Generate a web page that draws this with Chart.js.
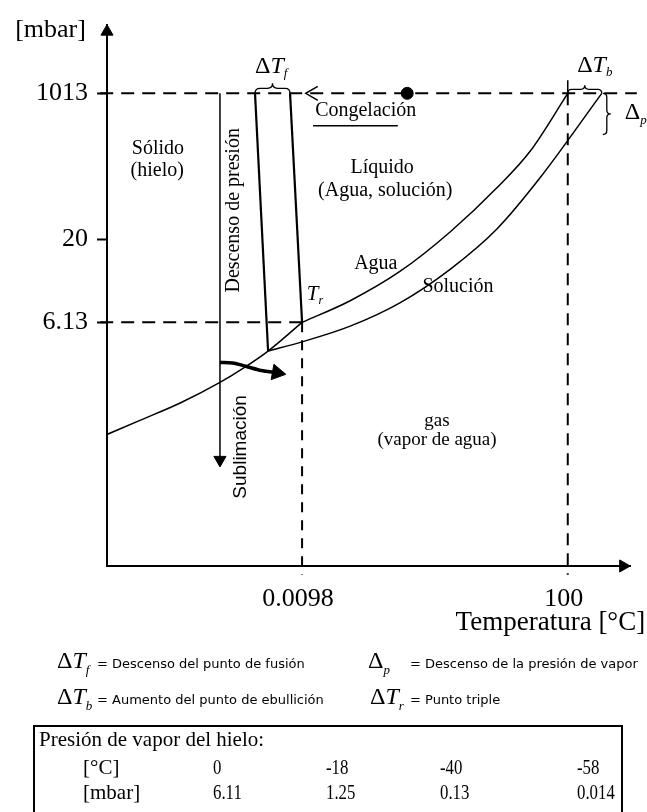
<!DOCTYPE html>
<html>
<head>
<meta charset="utf-8">
<script src="https://cdn.jsdelivr.net/npm/chart.js"></script>
<style>
  html, body { margin: 0; padding: 0; background: #fff; overflow: hidden; }
  #wrap { position: relative; width: 647px; height: 812px; overflow: hidden; }
  #phase { position: absolute; left: 0; top: 0; }
  .t { position: absolute; white-space: nowrap; line-height: 1; color: #000; }
  .serif { font-family: "Liberation Serif", "Times New Roman", serif; }
  .sans { font-family: "DejaVu Sans", sans-serif; font-size: 13px; }
  .sym { font-size: 24px; }
  .sym sub { font-size: 13px; font-style: italic; vertical-align: -6px; line-height: 0; }
  .tbl { font-size: 21px; }
  .num { transform: scaleX(0.8); transform-origin: left center; }
  #box { position: absolute; left: 33px; top: 725px; width: 590px; height: 120px;
         border: 2px solid #000; box-sizing: border-box; }
</style>
</head>
<body>
<div id="wrap">
  <canvas id="phase" width="647" height="812"></canvas>

  <div class="t serif sym" style="left:57px;top:648px">Δ<i>T</i><sub>f</sub></div>
  <div class="t sans" style="left:97px;top:657px">= Descenso del punto de fusión</div>
  <div class="t serif sym" style="left:368px;top:648px">Δ<sub>p</sub></div>
  <div class="t sans" style="left:410px;top:657px">= Descenso de la presión de vapor</div>
  <div class="t serif sym" style="left:57px;top:684px">Δ<i>T</i><sub>b</sub></div>
  <div class="t sans" style="left:97px;top:693px">= Aumento del punto de ebullición</div>
  <div class="t serif sym" style="left:370px;top:684px">Δ<i>T</i><sub>r</sub></div>
  <div class="t sans" style="left:410px;top:693px">= Punto triple</div>

  <div id="box"></div>
  <div class="t serif tbl" style="left:39px;top:729px">Presión de vapor del hielo:</div>
  <div id="rows"></div>
</div>

<script>
// Schematic phase diagram of water and of an aqueous solution.
// Both axes use abstract position units (0–100); the real values are
// only attached to the marked ticks.

// ---- tick positions and their labels ----
const pressureTicks      = [45.0, 60.3, 87.3];
const pressureTickLabels = ['6.13', '20', '1013'];
const tempTicks          = [37.3, 88.1];
const tempTickLabels     = ['0.0098', '100'];

// ---- key levels ----
const atmP = 87.3;            // 1013 mbar
const tripleP = 45.0;         // 6.13 mbar
const tripleT = 37.3;         // 0.0098 °C
const boilT = 88.1;           // 100 °C
const waterFreezeT = 35.0;    // melting line of water at 1013 mbar
const solutionFreezeT = 28.3; // melting line of the solution at 1013 mbar
const solutionBoilT = 94.6;   // boiling point of the solution at 1013 mbar
const solutionVaporP = 79.7;  // vapour pressure of the solution at 100 °C

// ---- curves ----
const iceCurveT = [0, 6.3, 14.0, 21.6, 26.0, 30.8, 37.3];
const iceCurveP = [24.3, 26.9, 30.1, 33.9, 36.5, 39.7, 45.0];
const waterCurveT = [37.3, 46.5, 56.0, 65.6, 74.6, 80.9, 88.1];
const waterCurveP = [45.0, 49.0, 54.4, 61.7, 69.9, 76.6, 87.3];
const solutionCurveT = [30.8, 37.3, 46.5, 56.0, 65.6, 74.6, 82.8, 94.6];
const solutionCurveP = [39.7, 41.4, 44.3, 48.6, 54.8, 62.3, 71.7, 87.3];
const waterMeltT = [35.0, 37.3];
const waterMeltP = [87.3, 45.0];
const solutionMeltT = [28.3, 30.8];
const solutionMeltP = [87.3, 39.7];

// ---- process arrows ----
const pressureDropT = [21.6, 21.6];
const pressureDropP = [87.3, 19.6];
const sublimationArrowT = [21.6, 24.0, 26.5, 29.5, 32.5];
const sublimationArrowP = [37.6, 37.5, 36.9, 36.1, 35.7];
const freezeStartT = 57.4;
const freezeEndT = 38.0;
const freezeUnderlineT = [39.4, 55.6];
const freezeUnderlineP = [81.3, 81.3];

// ---- ice vapour pressure table ----
const iceTempC = ['0', '-18', '-40', '-58'];
const iceVaporMbar = ['6.11', '1.25', '0.13', '0.014'];

const SERIF = '"Liberation Serif", "Times New Roman", serif';
const SANS = '"Liberation Sans", Arial, sans-serif';
const BLACK = '#000';

function pts(xs, ys) { return xs.map((x, i) => ({ x, y: ys[i] })); }
function curve(xs, ys, width) {
  return { data: pts(xs, ys), showLine: true, borderColor: BLACK, borderWidth: width,
           pointRadius: 0, cubicInterpolationMode: 'monotone', fill: false };
}
function segment(xs, ys, width, dash) {
  return { data: pts(xs, ys), showLine: true, borderColor: BLACK, borderWidth: width,
           borderDash: dash || [], pointRadius: 0, tension: 0, fill: false, clip: false };
}
function marker(x, y, style, r, rot) {
  return { data: [{ x, y }], showLine: false, pointStyle: style, pointRadius: r,
           pointRotation: rot || 0, backgroundColor: BLACK, borderColor: BLACK,
           borderWidth: 1, clip: false };
}

const datasets = [
  curve(iceCurveT, iceCurveP, 1.5),
  curve(waterCurveT, waterCurveP, 1.5),
  curve(solutionCurveT, solutionCurveP, 1.5),
  segment(waterMeltT, waterMeltP, 2.2),
  segment(solutionMeltT, solutionMeltP, 2.2),
  // reference levels
  segment([-1.3, 101.3], [atmP, atmP], 2, [13, 8]),
  segment([-1.3, tripleT], [tripleP, tripleP], 2, [13, 8]),
  segment([tripleT, tripleT], [tripleP, -1.6], 2, [10, 8]),
  segment([boilT, boilT], [atmP, -1.6], 2, [12, 8]),
  segment([boilT, boilT], [89.7, atmP], 1.5),
  // pressure drop arrow
  segment(pressureDropT, pressureDropP, 1.5),
  marker(21.6, 19.6, 'triangle', 7, 180),
  // sublimation arrow
  Object.assign(curve(sublimationArrowT, sublimationArrowP, 3.5), { clip: false }),
  marker(32.5, 35.7, 'triangle', 9, 100),
  // freezing path
  marker(freezeStartT, atmP, 'circle', 6),
  segment([freezeEndT + 2.3, freezeEndT, freezeEndT + 2.3], [atmP + 1.3, atmP, atmP - 1.3], 1.5),
  segment(freezeUnderlineT, freezeUnderlineP, 1.5),
  // axis arrowheads
  marker(0, 98.7, 'triangle', 7, 0),
  marker(98.7, 0, 'triangle', 7, 90)
];

const labels = [
  { x: -10.8, y: 98.9, align: 'center', parts: [{ t: '[mbar]', f: `26px ${SERIF}` }] },
  { x: 102.9, y: -10.5, align: 'right', parts: [{ t: 'Temperatura [°C]', f: `27px ${SERIF}` }] },
  { x: 28.3, y: 92.2, align: 'left', parts: [{ t: 'Δ', f: `24px ${SERIF}` }, { t: 'T', f: `italic 24px ${SERIF}` }, { t: 'f', f: `italic 13px ${SERIF}`, dy: 7 }] },
  { x: 89.9, y: 92.4, align: 'left', parts: [{ t: 'Δ', f: `24px ${SERIF}` }, { t: 'T', f: `italic 24px ${SERIF}` }, { t: 'b', f: `italic 13px ${SERIF}`, dy: 7 }] },
  { x: 99.0, y: 83.7, align: 'left', parts: [{ t: 'Δ', f: `24px ${SERIF}` }, { t: 'p', f: `italic 13px ${SERIF}`, dy: 8 }] },
  { x: 39.8, y: 84.0, align: 'left', parts: [{ t: 'Congelación', f: `20px ${SERIF}` }] },
  { x: 9.75, y: 77.1, align: 'center', parts: [{ t: 'Sólido', f: `20px ${SERIF}` }] },
  { x: 9.6, y: 73.0, align: 'center', parts: [{ t: '(hielo)', f: `20px ${SERIF}` }] },
  { x: 52.6, y: 73.5, align: 'center', parts: [{ t: 'Líquido', f: `20px ${SERIF}` }] },
  { x: 53.2, y: 69.3, align: 'center', parts: [{ t: '(Agua, solución)', f: `20px ${SERIF}` }] },
  { x: 51.4, y: 55.9, align: 'center', parts: [{ t: 'Agua', f: `20px ${SERIF}` }] },
  { x: 67.1, y: 51.5, align: 'center', parts: [{ t: 'Solución', f: `20px ${SERIF}` }] },
  { x: 38.2, y: 50.1, align: 'left', parts: [{ t: 'T', f: `italic 21px ${SERIF}` }, { t: 'r', f: `italic 12px ${SERIF}`, dy: 6 }] },
  { x: 24.3, y: 65.7, align: 'center', rotate: true, parts: [{ t: 'Descenso de presión', f: `20px ${SERIF}` }] },
  { x: 25.6, y: 22.0, align: 'center', rotate: true, parts: [{ t: 'Sublimación', f: `19px ${SANS}` }] },
  { x: 63.1, y: 26.7, align: 'center', parts: [{ t: 'gas', f: `19px ${SERIF}` }] },
  { x: 63.1, y: 23.2, align: 'center', parts: [{ t: '(vapor de agua)', f: `19px ${SERIF}` }] }
];

const braces = [
  { a: [solutionFreezeT, atmP], b: [waterFreezeT, atmP], depth: 10 },
  { a: [boilT, atmP], b: [solutionBoilT, atmP], depth: 8 },
  { a: [solutionBoilT + 0.2, atmP], b: [solutionBoilT + 0.2, solutionVaporP], depth: 8 }
];

function drawRich(ctx, item, px, py) {
  ctx.textBaseline = 'middle';
  ctx.textAlign = 'left';
  let total = 0;
  item.parts.forEach(p => { ctx.font = p.f; total += ctx.measureText(p.t).width; });
  let x = item.align === 'center' ? -total / 2 : item.align === 'right' ? -total : 0;
  ctx.save();
  ctx.translate(px, py);
  if (item.rotate) ctx.rotate(-Math.PI / 2);
  item.parts.forEach(p => {
    ctx.font = p.f;
    ctx.fillText(p.t, x, p.dy || 0);
    x += ctx.measureText(p.t).width;
  });
  ctx.restore();
}

function drawBrace(ctx, a, b, h) {
  const L = Math.hypot(b[0] - a[0], b[1] - a[1]);
  const u = [(b[0] - a[0]) / L, (b[1] - a[1]) / L];
  const n = [u[1], -u[0]];
  const P = (s, t) => [a[0] + u[0] * s + n[0] * t, a[1] + u[1] * s + n[1] * t];
  const q = Math.min(h / 2, L / 4);
  ctx.beginPath();
  ctx.moveTo(...P(0, 0));
  ctx.quadraticCurveTo(...P(0, h / 2), ...P(q, h / 2));
  ctx.lineTo(...P(L / 2 - q, h / 2));
  ctx.quadraticCurveTo(...P(L / 2, h / 2), ...P(L / 2, h));
  ctx.quadraticCurveTo(...P(L / 2, h / 2), ...P(L / 2 + q, h / 2));
  ctx.lineTo(...P(L - q, h / 2));
  ctx.quadraticCurveTo(...P(L, h / 2), ...P(L, 0));
  ctx.stroke();
}

const annotations = {
  id: 'annotations',
  afterDatasetsDraw(chart) {
    const { ctx, scales: { x, y } } = chart;
    ctx.save();
    ctx.fillStyle = BLACK;
    ctx.strokeStyle = BLACK;
    ctx.lineWidth = 1.3;
    braces.forEach(br => {
      drawBrace(ctx,
        [x.getPixelForValue(br.a[0]), y.getPixelForValue(br.a[1])],
        [x.getPixelForValue(br.b[0]), y.getPixelForValue(br.b[1])], br.depth);
    });
    labels.forEach(l => drawRich(ctx, l, x.getPixelForValue(l.x), y.getPixelForValue(l.y)));
    ctx.restore();
  }
};

new Chart(document.getElementById('phase'), {
  type: 'scatter',
  data: { datasets },
  options: {
    responsive: false,
    devicePixelRatio: 1,
    animation: false,
    layout: { padding: { left: 0, top: 15, right: 17, bottom: 0 } },
    plugins: { legend: { display: false }, tooltip: { enabled: false } },
    scales: {
      x: {
        type: 'linear', min: 0, max: 100, position: 'bottom',
        afterBuildTicks: s => { s.ticks = tempTicks.map(v => ({ value: v })); },
        afterFit: s => { s.height = 246; },
        ticks: {
          callback: (v, i) => tempTickLabels[i],
          font: { family: SERIF, size: 26 }, color: BLACK,
          padding: 10, labelOffset: -4, maxRotation: 0, autoSkip: false
        },
        grid: { display: false },
        border: { display: true, color: BLACK, width: 2 }
      },
      y: {
        type: 'linear', min: 0, max: 100, position: 'left',
        afterBuildTicks: s => { s.ticks = pressureTicks.map(v => ({ value: v })); },
        afterFit: s => { s.width = 107; },
        ticks: {
          callback: (v, i) => pressureTickLabels[i],
          font: { family: SERIF, size: 26 }, color: BLACK,
          padding: 9, autoSkip: false
        },
        grid: { display: true, drawOnChartArea: false, drawTicks: true, tickLength: 10,
                tickColor: BLACK, tickWidth: 2, color: BLACK },
        border: { display: true, color: BLACK, width: 2 }
      }
    }
  },
  plugins: [annotations]
});

// ice vapour pressure rows
const cols = [213, 326, 440, 577];
const rows = document.getElementById('rows');
[['[°C]', iceTempC, 757], ['[mbar]', iceVaporMbar, 782]].forEach(([unit, vals, top]) => {
  const u = document.createElement('div');
  u.className = 't serif tbl';
  u.style.left = '83px'; u.style.top = top + 'px';
  u.textContent = unit;
  rows.appendChild(u);
  vals.forEach((v, i) => {
    const d = document.createElement('div');
    d.className = 't serif tbl num';
    d.style.left = cols[i] + 'px'; d.style.top = top + 'px';
    d.textContent = v;
    rows.appendChild(d);
  });
});
</script>
</body>
</html>
